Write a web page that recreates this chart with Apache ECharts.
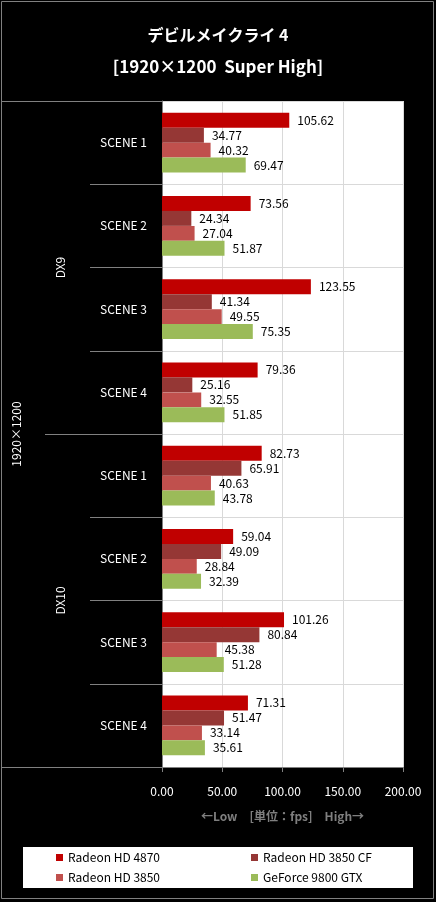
<!DOCTYPE html>
<html>
<head>
<meta charset="utf-8">
<script src="https://cdn.jsdelivr.net/npm/echarts@6/dist/echarts.min.js"></script>
<style>
  html, body { margin: 0; padding: 0; background: #000; }
  #main { width: 436px; height: 902px; }
</style>
</head>
<body>
<div id="main"></div>
<script>
// scenes top to bottom (DX9 1-4, DX10 1-4)
var scenes = ['SCENE 1', 'SCENE 2', 'SCENE 3', 'SCENE 4', 'SCENE 1 ', 'SCENE 2 ', 'SCENE 3 ', 'SCENE 4 '];
var apiGroups = ['DX9', 'DX10'];
var resGroups = ['1920×1200'];
var seriesNames = ['Radeon HD 4870', 'Radeon HD 3850 CF', 'Radeon HD 3850', 'GeForce 9800 GTX'];
var hd4870 = [105.62, 73.56, 123.55, 79.36, 82.73, 59.04, 101.26, 71.31];
var hd3850cf = [34.77, 24.34, 41.34, 25.16, 65.91, 49.09, 80.84, 51.47];
var hd3850 = [40.32, 27.04, 49.55, 32.55, 40.63, 28.84, 45.38, 33.14];
var gf9800 = [69.47, 51.87, 75.35, 51.85, 43.78, 32.39, 51.28, 35.61];
var xTicks = [0, 50, 100, 150, 200];

var colors = ['#C00000', '#953735', '#C0504D', '#9BBB59'];
var font = '"Noto Sans CJK JP", "Noto Sans", sans-serif';

var myChart = echarts.init(document.getElementById('main'));

function bar(name, data, color) {
    return {
        name: name,
        type: 'bar',
        yAxisIndex: 0,
        data: data,
        barGap: '0%',
        barCategoryGap: '28%',
        itemStyle: { color: color },
        label: {
            show: true,
            position: 'right',
            distance: 8,
            color: '#000',
            fontSize: 12,
            formatter: function (p) { return p.value.toFixed(2); }
        }
    };
}

var option = {
    backgroundColor: '#000',
    animation: false,
    textStyle: { fontFamily: font },
    color: colors,
    title: [
        { text: 'デビルメイクライ 4', left: 'center', top: 22,
          textStyle: { color: '#fff', fontSize: 16, fontWeight: 'bold' } },
        { text: '[1920×1200  Super High]', left: 'center', top: 53,
          textStyle: { color: '#fff', fontSize: 17, fontWeight: 'bold' } }
    ],
    legend: [
        { data: [seriesNames[0], seriesNames[2]], orient: 'vertical', left: 56, top: 851,
          padding: 0, itemWidth: 7, itemHeight: 7, itemGap: 7, icon: 'rect',
          textStyle: { color: '#000', fontSize: 12, lineHeight: 13 } },
        { data: [seriesNames[1], seriesNames[3]], orient: 'vertical', left: 251, top: 851,
          padding: 0, itemWidth: 7, itemHeight: 7, itemGap: 7, icon: 'rect',
          textStyle: { color: '#000', fontSize: 12, lineHeight: 13 } }
    ],
    graphic: [
        { type: 'rect', z: -1, shape: { x: 1.5, y: 1.5, width: 432, height: 897 },
          style: { fill: null, stroke: '#808080', lineWidth: 1 } },
        { type: 'rect', z: -1, shape: { x: 23, y: 847, width: 390, height: 41 },
          style: { fill: '#fff' } }
    ],
    grid: {
        left: 162, right: 33, top: 101, bottom: 135,
        show: true, backgroundColor: '#fff', borderWidth: 0
    },
    xAxis: {
        type: 'value',
        min: xTicks[0], max: xTicks[xTicks.length - 1], interval: 50,
        axisLine: { show: true, lineStyle: { color: '#808080' } },
        axisTick: { show: true, length: 5, lineStyle: { color: '#808080' } },
        splitLine: { lineStyle: { color: '#d9d9d9' } },
        axisLabel: { color: '#fff', fontSize: 12, margin: 18,
                     formatter: function (v) { return v.toFixed(2); } },
        name: '←Low　[単位：fps]　High→',
        nameLocation: 'middle',
        nameGap: 43,
        nameTextStyle: { color: '#7f7f7f', fontWeight: 'bold', fontSize: 12 }
    },
    yAxis: [
        {
            type: 'category', data: scenes, inverse: true, position: 'left',
            axisLine: { show: true, lineStyle: { color: '#808080' } },
            axisTick: { show: true, length: 72, interval: 0, lineStyle: { color: '#808080' } },
            splitLine: { show: true, interval: 0, lineStyle: { color: '#d9d9d9' } },
            axisLabel: { color: '#fff', fontSize: 12, margin: 15, interval: 0,
                         formatter: function (v) { return v.trim(); } }
        },
        {
            type: 'category', data: apiGroups, inverse: true, position: 'left', offset: 72,
            axisLine: { show: false },
            axisTick: { show: true, length: 45, interval: 0, lineStyle: { color: '#808080' } },
            axisLabel: { color: '#fff', fontSize: 12, rotate: 90, margin: 24, interval: 0 }
        },
        {
            type: 'category', data: resGroups, inverse: true, position: 'left', offset: 117,
            axisLine: { show: false },
            axisTick: { show: true, length: 44, interval: 0, lineStyle: { color: '#808080' } },
            axisLabel: { color: '#fff', fontSize: 12, rotate: 90, margin: 23, interval: 0 }
        }
    ],
    series: [
        bar(seriesNames[0], hd4870, colors[0]),
        bar(seriesNames[1], hd3850cf, colors[1]),
        bar(seriesNames[2], hd3850, colors[2]),
        bar(seriesNames[3], gf9800, colors[3])
    ]
};
myChart.setOption(option);
</script>
</body>
</html>
